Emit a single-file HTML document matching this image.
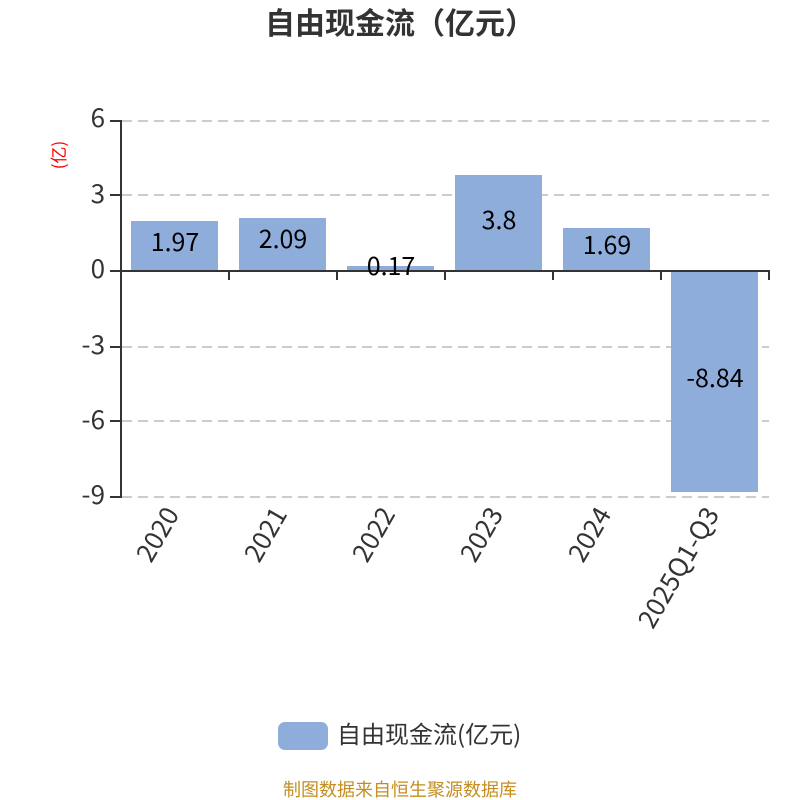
<!DOCTYPE html>
<html><head><meta charset="utf-8"><style>html,body{margin:0;padding:0;background:#fff}svg{display:block}text{font-family:"Liberation Sans","Noto Sans CJK SC",sans-serif}.cjk{font-family:"Noto Sans CJK SC",sans-serif}</style></head><body>
<svg width="800" height="800" viewBox="0 0 800 800" xmlns="http://www.w3.org/2000/svg">
<rect width="800" height="800" fill="#fff"/>
<text class="cjk" x="400" y="34" text-anchor="middle" font-size="30" font-weight="700" fill="#333">自由现金流（亿元）</text>
<g stroke="#ccc" stroke-width="2" stroke-dasharray="10 6" fill="none">
<path d="M122 121H769M122 195H769M122 347H769M122 421H769M122 497H769"/>
</g>
<g fill="#8eaddb">
<rect x="131" y="221" width="87" height="50"/>
<rect x="239" y="218" width="87" height="53"/>
<rect x="347" y="266" width="87" height="5"/>
<rect x="455" y="175" width="87" height="96"/>
<rect x="563" y="228" width="87" height="43"/>
<rect x="671" y="271" width="87" height="221"/>
</g>
<g stroke="#333" stroke-width="2" fill="none">
<path d="M121 120V498"/>
<path d="M110 121H121M110 195H121M110 347H121M110 421H121M110 497H121"/>
<path d="M110 271H770"/>
<path d="M229 271V280M337 271V280M445 271V280M553 271V280M661 271V280M769 271V280"/>
</g>
<g class="cjk" font-size="26" fill="#333" text-anchor="end">
<text class="cjk" x="105" y="127">6</text><text class="cjk" x="105" y="203">3</text><text class="cjk" x="105" y="278">0</text><text class="cjk" x="105" y="354">-3</text><text class="cjk" x="105" y="429">-6</text><text class="cjk" x="105" y="504">-9</text>
</g>
<g font-size="25" fill="#000" text-anchor="middle">
<text class="cjk" x="175" y="251">1.97</text><text class="cjk" x="283" y="248">2.09</text><text class="cjk" x="391" y="275">0.17</text><text class="cjk" x="499" y="229">3.8</text><text class="cjk" x="607" y="254">1.69</text><text class="cjk" x="715" y="387">-8.84</text>
</g>
<g font-size="26" fill="#333" text-anchor="end">
<text class="cjk" transform="translate(180,514) rotate(-60)">2020</text>
<text class="cjk" transform="translate(288,514) rotate(-60)">2021</text>
<text class="cjk" transform="translate(396,514) rotate(-60)">2022</text>
<text class="cjk" transform="translate(504,514) rotate(-60)">2023</text>
<text class="cjk" transform="translate(612,514) rotate(-60)">2024</text>
<text class="cjk" transform="translate(720,514) rotate(-60)">2025Q1-Q3</text>
</g>
<text class="cjk" transform="translate(65,155) rotate(-90)" font-size="17" fill="#f00" text-anchor="middle">(亿)</text>
<rect x="278" y="722" width="50" height="28" rx="7" fill="#8eaddb"/>
<text class="cjk" x="337" y="743" font-size="24" fill="#333">自由现金流(亿元)</text>
<text class="cjk" x="400" y="796" text-anchor="middle" font-size="18" fill="#c48e20">制图数据来自恒生聚源数据库</text>
</svg>
</body></html>
